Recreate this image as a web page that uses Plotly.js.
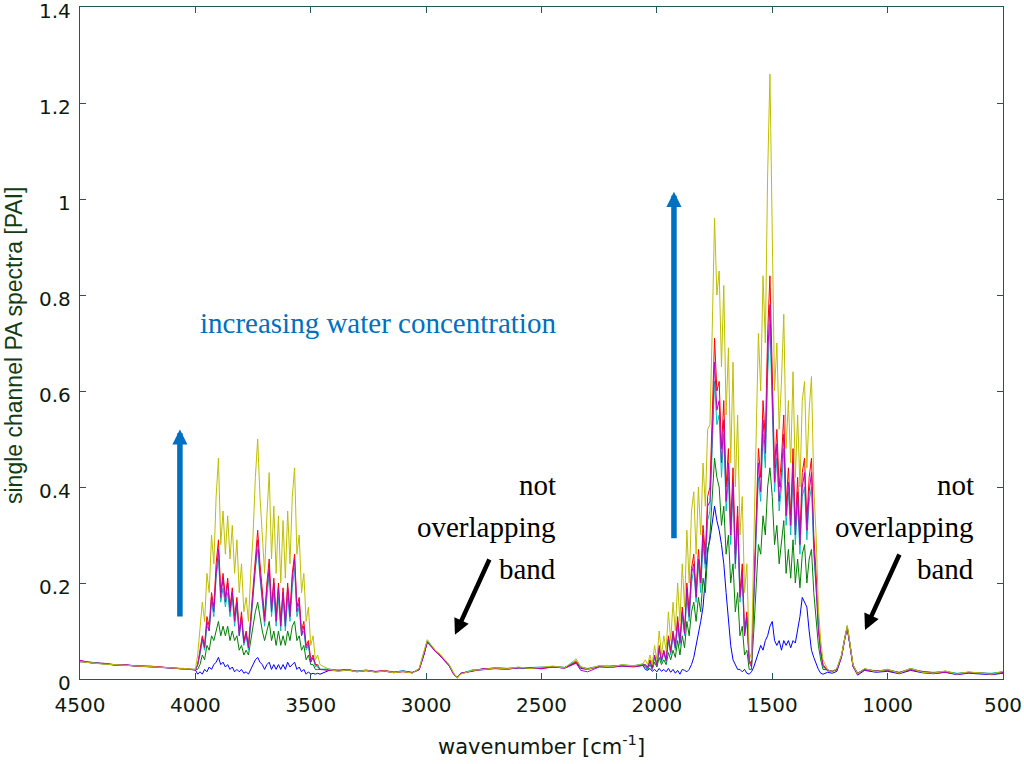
<!DOCTYPE html>
<html>
<head>
<meta charset="utf-8">
<script src="https://cdn.plot.ly/plotly-3.0.1.min.js"></script>
<style>html,body{margin:0;padding:0;background:#fff;}#chart{width:1024px;height:764px;}</style>
</head>
<body>
<div id="chart"></div>
<script>
// wavenumber grid [cm^-1]
const wavenumber = [
4500,4450,4400,4350,4300,4250,4200,4150,4100,4050,4000,
3990,3980,3970,3960,3950,3940,3930,3920,3910,3900,3890,3880,3870,3860,3850,3840,3830,3820,3810,3800,3790,3780,3770,3760,3750,3740,3730,3720,3710,3700,3690,3680,3670,3660,3650,3640,3630,3620,3610,3600,3590,3580,3570,3560,3550,3540,3530,3520,3510,3500,3490,3480,3470,3460,
3420,3380,3340,3300,3260,3220,3180,3140,3100,3060,3030,3010,2995,2980,2960,2940,2920,2900,2880,2865,2850,2800,2750,2700,2650,2600,2550,2500,2450,2400,2370,2350,2330,2300,2250,2200,2150,2100,2060,
2050,2040,2030,2020,2010,2000,1990,1980,1970,1960,1950,1940,1930,1920,1910,1900,1890,1880,1870,1860,1850,1840,1830,1820,1810,1800,1790,1780,1770,1760,1750,1740,1730,1720,1710,1700,1690,1680,1670,1660,1650,1640,1630,1620,1610,1600,1590,1580,1570,1560,1550,1540,1530,1520,1510,1500,1490,1480,1470,1460,1450,1440,1430,1420,1410,1400,1390,1380,1370,1360,1350,1340,1330,1320,1310,1300,1290,1280,
1260,1240,1220,1200,1185,1175,1165,1150,1130,1100,1050,1000,950,900,850,800,750,700,650,600,550,500
];

const specBlue = [
0.036,0.034,0.031,0.030,0.029,0.027,0.025,0.024,0.023,0.021,0.019,
0.01,0.015,0.01,0.02,0.015,0.025,0.02,0.03,0.035,0.045,
0.03,0.035,0.025,0.03,0.02,0.025,0.015,0.02,0.015,0.02,
0.012,0.015,0.01,0.02,0.03,0.04,0.045,0.035,0.03,0.02,
0.03,0.035,0.02,0.03,0.02,0.03,0.02,0.03,0.02,0.035,
0.025,0.03,0.035,0.02,0.025,0.015,0.02,0.01,0.015,0.01,
0.012,0.01,0.012,0.01,
0.018,0.017,0.019,0.016,0.018,0.015,0.016,0.014,0.017,0.013,0.020,0.050,0.077,0.069,0.058,0.049,0.038,0.028,0.010,0.004,0.012,0.017,0.020,0.022,0.021,0.023,0.022,0.024,0.025,0.023,0.029,0.034,0.022,0.020,0.026,0.025,0.027,0.026,0.028,
0.02,0.018,0.022,0.016,0.02,0.015,0.022,0.016,0.02,0.015,
0.022,0.014,0.02,0.012,0.018,0.01,0.02,0.018,0.015,0.02,
0.03,0.045,0.07,0.09,0.12,0.15,0.21,0.27,0.29,0.33,
0.36,0.33,0.31,0.28,0.24,0.18,0.13,0.07,0.04,0.03,
0.02,0.02,0.015,0.02,0.012,0.01,0.015,0.025,0.04,0.06,
0.07,0.06,0.08,0.09,0.11,0.12,0.08,0.07,0.08,0.06,
0.08,0.07,0.08,0.065,0.08,0.075,0.10,0.13,0.17,0.16,
0.15,0.10,0.06,0.045,0.03,0.02,0.012,0.01,
0.014,0.012,0.016,0.045,0.085,0.105,0.075,0.026,0.008,0.018,0.014,0.016,0.011,0.018,0.013,0.011,0.014,0.009,0.012,0.011,0.009,0.012
];

const specGreen = [
0.037,0.034,0.032,0.030,0.028,0.028,0.026,0.025,0.023,0.021,0.020,
0.02,0.03,0.05,0.04,0.07,0.06,0.09,0.08,0.10,0.12,
0.09,0.11,0.09,0.11,0.08,0.10,0.08,0.09,0.06,0.07,
0.05,0.06,0.05,0.08,0.11,0.14,0.16,0.13,0.10,0.08,
0.10,0.12,0.08,0.10,0.07,0.10,0.07,0.09,0.07,0.10,
0.08,0.11,0.12,0.08,0.09,0.06,0.07,0.04,0.05,0.03,
0.03,0.02,0.02,0.02,
0.020,0.018,0.019,0.016,0.018,0.015,0.017,0.014,0.016,0.013,0.021,0.051,0.079,0.071,0.059,0.050,0.039,0.029,0.011,0.003,0.011,0.018,0.021,0.023,0.022,0.024,0.022,0.023,0.026,0.024,0.031,0.037,0.025,0.021,0.027,0.026,0.029,0.027,0.031,
0.025,0.02,0.03,0.02,0.035,0.025,0.045,0.03,0.04,0.03,
0.055,0.04,0.06,0.045,0.08,0.05,0.09,0.065,0.12,0.09,
0.14,0.16,0.12,0.17,0.14,0.21,0.18,0.26,0.30,0.38,
0.46,0.42,0.40,0.32,0.36,0.26,0.30,0.20,0.24,0.14,
0.18,0.09,0.11,0.05,0.06,0.02,0.02,0.10,0.20,0.28,
0.26,0.34,0.30,0.40,0.44,0.38,0.28,0.32,0.24,0.28,
0.33,0.22,0.27,0.21,0.29,0.20,0.25,0.19,0.26,0.28,
0.20,0.25,0.27,0.18,0.13,0.07,0.04,0.02,
0.019,0.016,0.021,0.048,0.088,0.109,0.078,0.029,0.012,0.021,0.016,0.020,0.013,0.022,0.015,0.013,0.016,0.011,0.014,0.012,0.011,0.015
];

const specRed = [
0.038,0.034,0.032,0.029,0.029,0.026,0.027,0.025,0.022,0.021,0.019,
0.03,0.06,0.09,0.07,0.13,0.11,0.18,0.15,0.24,0.29,
0.18,0.22,0.17,0.21,0.15,0.19,0.13,0.17,0.10,0.14,
0.08,0.10,0.07,0.13,0.19,0.26,0.31,0.24,0.18,0.13,
0.20,0.25,0.15,0.21,0.13,0.20,0.12,0.19,0.12,0.20,
0.14,0.22,0.26,0.15,0.17,0.10,0.12,0.07,0.08,0.04,
0.05,0.03,0.03,0.02,
0.019,0.017,0.020,0.016,0.017,0.015,0.018,0.014,0.015,0.013,0.020,0.052,0.078,0.070,0.058,0.050,0.038,0.028,0.010,0.003,0.011,0.017,0.021,0.022,0.020,0.024,0.023,0.022,0.025,0.024,0.030,0.036,0.024,0.021,0.026,0.027,0.028,0.026,0.030,
0.03,0.025,0.04,0.025,0.05,0.03,0.07,0.04,0.06,0.04,
0.09,0.06,0.10,0.07,0.13,0.08,0.15,0.10,0.20,0.14,
0.23,0.26,0.18,0.27,0.21,0.32,0.26,0.38,0.40,0.55,
0.71,0.60,0.62,0.48,0.58,0.40,0.48,0.32,0.44,0.26,
0.36,0.18,0.24,0.10,0.14,0.04,0.03,0.18,0.34,0.48,
0.42,0.58,0.50,0.72,0.84,0.66,0.44,0.52,0.40,0.46,
0.55,0.36,0.44,0.34,0.48,0.32,0.42,0.30,0.43,0.46,
0.33,0.42,0.46,0.30,0.22,0.11,0.06,0.03,
0.018,0.016,0.020,0.048,0.088,0.108,0.078,0.028,0.012,0.020,0.017,0.018,0.014,0.020,0.016,0.013,0.015,0.011,0.014,0.013,0.011,0.014
];

const specCyan = [
0.037,0.035,0.031,0.030,0.028,0.027,0.025,0.024,0.023,0.020,0.020,
0.03,0.05,0.08,0.06,0.11,0.10,0.16,0.13,0.21,0.25,
0.16,0.19,0.15,0.18,0.13,0.17,0.11,0.15,0.09,0.12,
0.07,0.09,0.06,0.11,0.17,0.23,0.27,0.21,0.16,0.11,
0.17,0.22,0.13,0.18,0.11,0.17,0.10,0.17,0.10,0.17,
0.12,0.19,0.23,0.13,0.15,0.09,0.10,0.06,0.07,0.035,
0.045,0.025,0.03,0.02,
0.021,0.017,0.018,0.016,0.019,0.015,0.016,0.014,0.017,0.013,0.021,0.053,0.080,0.071,0.059,0.051,0.039,0.029,0.011,0.004,0.011,0.019,0.020,0.024,0.022,0.023,0.023,0.025,0.026,0.024,0.032,0.038,0.025,0.022,0.027,0.026,0.029,0.028,0.031,
0.03,0.02,0.035,0.02,0.045,0.03,0.06,0.035,0.055,0.035,
0.08,0.05,0.09,0.06,0.11,0.07,0.13,0.09,0.17,0.12,
0.20,0.23,0.16,0.24,0.18,0.28,0.23,0.33,0.35,0.48,
0.62,0.53,0.55,0.42,0.51,0.35,0.42,0.28,0.39,0.23,
0.32,0.16,0.21,0.09,0.12,0.035,0.03,0.16,0.30,0.42,
0.37,0.51,0.44,0.63,0.74,0.58,0.39,0.46,0.35,0.40,
0.48,0.32,0.39,0.30,0.42,0.28,0.37,0.26,0.38,0.40,
0.29,0.37,0.40,0.26,0.19,0.10,0.05,0.025,
0.019,0.015,0.021,0.049,0.089,0.110,0.079,0.029,0.011,0.021,0.016,0.019,0.013,0.021,0.015,0.014,0.016,0.012,0.013,0.012,0.012,0.015
];

const specMagenta = [
0.039,0.033,0.033,0.029,0.030,0.026,0.026,0.025,0.022,0.022,0.019,
0.03,0.055,0.085,0.065,0.12,0.10,0.17,0.14,0.22,0.27,
0.17,0.21,0.16,0.20,0.14,0.18,0.12,0.16,0.09,0.13,
0.075,0.095,0.065,0.12,0.18,0.24,0.29,0.22,0.17,0.12,
0.19,0.23,0.14,0.20,0.12,0.19,0.11,0.18,0.11,0.19,
0.13,0.21,0.25,0.14,0.16,0.09,0.11,0.065,0.075,0.035,
0.045,0.03,0.025,0.02,
0.018,0.018,0.019,0.015,0.018,0.016,0.017,0.013,0.016,0.014,0.019,0.050,0.076,0.069,0.057,0.049,0.037,0.027,0.009,0.002,0.012,0.016,0.022,0.021,0.021,0.023,0.024,0.021,0.026,0.022,0.028,0.033,0.018,0.015,0.025,0.024,0.027,0.025,0.029,
0.03,0.022,0.038,0.022,0.048,0.028,0.065,0.038,0.058,0.038,
0.085,0.055,0.095,0.065,0.12,0.075,0.14,0.095,0.19,0.13,
0.22,0.24,0.17,0.25,0.20,0.30,0.24,0.36,0.37,0.51,
0.66,0.56,0.58,0.45,0.54,0.37,0.45,0.30,0.41,0.24,
0.34,0.17,0.22,0.09,0.13,0.035,0.025,0.17,0.32,0.45,
0.39,0.54,0.47,0.67,0.78,0.62,0.41,0.49,0.37,0.43,
0.51,0.34,0.41,0.32,0.45,0.30,0.39,0.28,0.40,0.43,
0.31,0.39,0.43,0.28,0.20,0.10,0.055,0.028,
0.017,0.016,0.019,0.047,0.087,0.107,0.077,0.027,0.010,0.019,0.016,0.017,0.013,0.019,0.015,0.012,0.014,0.010,0.013,0.012,0.010,0.013
];

const specYellow = [
0.036,0.033,0.031,0.030,0.028,0.027,0.026,0.024,0.023,0.022,0.020,
0.05,0.10,0.16,0.12,0.22,0.18,0.30,0.24,0.38,0.46,
0.28,0.35,0.26,0.34,0.25,0.32,0.22,0.29,0.18,0.24,
0.14,0.17,0.12,0.22,0.30,0.42,0.50,0.38,0.30,0.22,
0.34,0.43,0.25,0.36,0.22,0.34,0.20,0.33,0.21,0.35,
0.24,0.38,0.44,0.26,0.30,0.18,0.22,0.12,0.15,0.07,
0.09,0.04,0.05,0.03,
0.020,0.016,0.019,0.015,0.018,0.014,0.017,0.013,0.016,0.012,0.022,0.055,0.082,0.072,0.060,0.052,0.040,0.030,0.012,0.002,0.010,0.018,0.020,0.023,0.021,0.025,0.022,0.024,0.027,0.023,0.035,0.042,0.026,0.020,0.028,0.025,0.030,0.027,0.032,
0.04,0.03,0.05,0.03,0.07,0.04,0.10,0.05,0.09,0.06,
0.14,0.08,0.16,0.10,0.20,0.12,0.24,0.15,0.31,0.20,
0.35,0.39,0.26,0.40,0.30,0.45,0.36,0.52,0.53,0.73,
0.96,0.80,0.85,0.65,0.82,0.55,0.69,0.45,0.66,0.40,
0.55,0.30,0.38,0.18,0.24,0.06,0.04,0.28,0.50,0.72,
0.60,0.84,0.70,1.05,1.26,0.95,0.60,0.70,0.52,0.62,
0.76,0.48,0.58,0.45,0.64,0.42,0.55,0.40,0.58,0.62,
0.44,0.56,0.63,0.40,0.30,0.15,0.08,0.04,
0.020,0.014,0.022,0.050,0.090,0.112,0.080,0.030,0.010,0.022,0.015,0.020,0.012,0.022,0.014,0.012,0.017,0.010,0.015,0.012,0.010,0.016
];

const seriesList = [
  {y: specBlue, color: '#0000ff'},
  {y: specGreen, color: '#008000'},
  {y: specRed, color: '#ff0000'},
  {y: specCyan, color: '#00bfbf'},
  {y: specMagenta, color: '#bf00bf'},
  {y: specYellow, color: '#bfbf00'}
];

const xTicks = [4500,4000,3500,3000,2500,2000,1500,1000,500];
const yTicks = [0,0.2,0.4,0.6,0.8,1,1.2,1.4];

const traces = seriesList.map(s => ({
  type: 'scatter', mode: 'lines', x: wavenumber, y: s.y,
  line: {color: s.color, width: 1}, hoverinfo: 'skip'
}));

const axisColor = '#245656';
const tickFont = {family: 'DejaVu Sans, Liberation Sans, Arial', size: 20, color: '#0d1a0d'};
const serif = 'Liberation Serif, Times New Roman, serif';
const blue = '#0070c0';

const annotations = [
  {xref:'paper', yref:'paper', x:0.5005, y:-0.098, xanchor:'center', yanchor:'middle', showarrow:false,
   text:'wavenumber [cm<sup>-1</sup>]', font:{family:'DejaVu Sans, Liberation Sans, Arial', size:21, color:'#0d1a0d'}},
  {xref:'paper', yref:'paper', x:-0.0715, y:0.497, xanchor:'center', yanchor:'middle', showarrow:false, textangle:-90,
   text:'single channel PA spectra [PAI]', font:{family:'Liberation Sans, Arial', size:23, color:'#123d12'}},
  {xref:'x', yref:'y', x:3984, y:0.742, xanchor:'left', yanchor:'middle', showarrow:false, borderpad:0,
   text:'increasing water concentration', font:{family:serif, size:29, color:blue}},
  // blue arrows
  {xref:'x', yref:'y', axref:'x', ayref:'y', x:4067, y:0.52, ax:4067, ay:0.127, text:'', showarrow:true,
   arrowhead:2, arrowsize:0.55, arrowwidth:5.5, arrowcolor:blue, standoff:0, startstandoff:0},
  {xref:'x', yref:'y', axref:'x', ayref:'y', x:1926, y:1.015, ax:1926, ay:0.29, text:'', showarrow:true,
   arrowhead:2, arrowsize:0.55, arrowwidth:5.5, arrowcolor:blue, standoff:0, startstandoff:0},
  // black arrows
  {xref:'x', yref:'y', axref:'x', ayref:'y', x:2875, y:0.092, ax:2723, ay:0.252, text:'', showarrow:true,
   arrowhead:2, arrowsize:0.7, arrowwidth:4.5, arrowcolor:'#000', standoff:0, startstandoff:0},
  {xref:'x', yref:'y', axref:'x', ayref:'y', x:1098, y:0.102, ax:946, ay:0.2625, text:'', showarrow:true,
   arrowhead:2, arrowsize:0.7, arrowwidth:4.5, arrowcolor:'#000', standoff:0, startstandoff:0}
];

const noteLines = ['not', 'overlapping', 'band'];
const noteY = [0.404, 0.317, 0.229];
[2433, 621].forEach(xr => {
  noteLines.forEach((t, i) => {
    annotations.push({xref:'x', yref:'y', x:xr, y:noteY[i], xanchor:'right', yanchor:'middle',
      showarrow:false, borderpad:0, text:t, font:{family:serif, size:29, color:'#000'}});
  });
});

const layout = {
  width: 1024, height: 764,
  margin: {l: 80, r: 21, t: 7, b: 85},
  paper_bgcolor: '#fff', plot_bgcolor: '#fff',
  showlegend: false,
  xaxis: {
    range: [4500, 500], tickvals: xTicks, ticktext: xTicks.map(String),
    ticks: 'inside', ticklen: 6, tickcolor: axisColor, mirror: 'ticks',
    showline: true, linecolor: axisColor, linewidth: 1.2,
    showgrid: false, zeroline: false, tickfont: tickFont, ticklabelstandoff: 8,
    ticklabeloverflow: 'allow'
  },
  yaxis: {
    range: [0, 1.4], tickvals: yTicks, ticktext: yTicks.map(String),
    ticks: 'inside', ticklen: 6, tickcolor: axisColor, mirror: 'ticks',
    showline: true, linecolor: axisColor, linewidth: 1.2,
    showgrid: false, zeroline: false, tickfont: tickFont, ticklabelstandoff: 4,
    ticklabelshift: 4, ticklabeloverflow: 'allow'
  },
  annotations: annotations
};

Plotly.newPlot('chart', traces, layout, {displayModeBar: false, staticPlot: true});
</script>
</body>
</html>
